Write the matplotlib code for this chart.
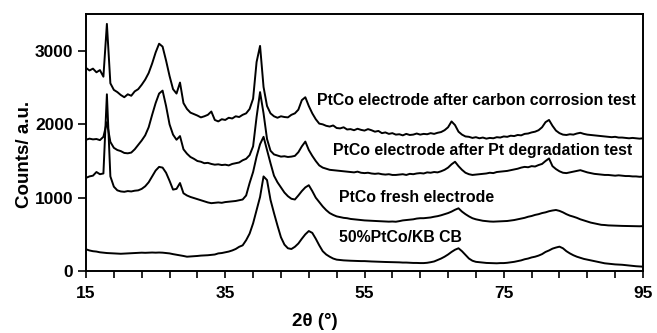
import numpy as np
import matplotlib
matplotlib.use("Agg")
import matplotlib.pyplot as plt
from matplotlib.ticker import FixedLocator, NullFormatter

plt.rcParams['font.family'] = ['Liberation Sans', 'DejaVu Sans']
plt.rcParams['font.weight'] = 'bold'

# 2-theta scan grid (degrees), 0.5 deg steps from 15 to 95
two_theta = np.arange(15.0, 95.01, 0.5)

# PtCo electrode after carbon corrosion test
counts_carbon_corrosion = [
    2770, 2735, 2760, 2710, 2740, 2650, 3370, 2560, 2470, 2440,
    2400, 2370, 2410, 2390, 2450, 2480, 2540, 2610, 2700, 2830,
    2980, 3100, 3060, 2870, 2660, 2480, 2420, 2570, 2290, 2210,
    2160, 2140, 2120, 2095, 2110, 2130, 2175, 2060, 2040, 2070,
    2060, 2090, 2080, 2110, 2100, 2130, 2150, 2210, 2350, 2850,
    3070, 2510, 2250, 2150, 2110, 2090, 2110, 2100, 2095, 2130,
    2150, 2200, 2330, 2370, 2250, 2150, 2070, 2010, 2000, 1980,
    1970, 1985, 1950, 1945, 1960, 1930, 1935, 1920, 1940, 1925,
    1915, 1935, 1920, 1900, 1910, 1880, 1890, 1870, 1880, 1860,
    1865, 1850, 1870, 1855, 1860, 1875, 1860, 1870, 1865, 1880,
    1870, 1885, 1895, 1920, 1960, 2040, 1990, 1900, 1860, 1835,
    1830, 1815, 1825, 1810, 1820, 1805, 1815, 1810, 1825, 1820,
    1835, 1830, 1845, 1840, 1855, 1850, 1870, 1875, 1890, 1900,
    1920, 1960, 2030, 2060, 1980, 1915, 1880, 1860, 1855, 1865,
    1860, 1875, 1885, 1870, 1860, 1855, 1850, 1845, 1840, 1835,
    1830, 1825, 1830, 1820, 1820, 1815, 1810, 1815, 1810, 1805, 1810,
]

# PtCo electrode after Pt degradation test
counts_pt_degradation = [
    1790, 1805, 1795, 1800, 1785, 1830, 2030, 1760, 1680, 1650,
    1635, 1610, 1605, 1615, 1660, 1720, 1780, 1850, 1960, 2130,
    2290, 2420, 2460, 2250, 2000, 1860, 1790, 1840, 1660, 1600,
    1555, 1530, 1500, 1490, 1470, 1475, 1460, 1450, 1455, 1445,
    1450, 1440, 1460, 1470, 1480, 1510, 1530, 1580, 1700, 2100,
    2440, 2150, 1800, 1640, 1590, 1575, 1560, 1565, 1555, 1560,
    1570, 1620, 1700, 1765, 1650, 1570, 1500, 1440, 1410, 1395,
    1380, 1375, 1370, 1365, 1360, 1355, 1350, 1345, 1355, 1340,
    1335, 1340, 1330, 1325, 1330, 1320, 1315, 1320, 1310, 1310,
    1315, 1320, 1310, 1325, 1320, 1330, 1335, 1330, 1345, 1340,
    1350, 1345, 1360, 1380, 1410, 1455, 1490, 1430, 1380, 1340,
    1320, 1310, 1315, 1320, 1325, 1330, 1340, 1335, 1350, 1355,
    1360, 1365, 1375, 1385, 1395, 1410, 1420, 1415, 1430, 1425,
    1445, 1460, 1500, 1535, 1430, 1390, 1360, 1340, 1335, 1345,
    1355, 1365, 1375, 1360, 1345, 1335, 1325, 1320, 1315, 1310,
    1310, 1305, 1300, 1305, 1300, 1295, 1295, 1290, 1290, 1285, 1287,
]

# PtCo fresh electrode
counts_fresh = [
    1270, 1290, 1300, 1350, 1320, 1330, 2410, 1290, 1150, 1100,
    1085, 1080, 1090, 1085, 1095, 1100, 1120, 1155, 1210, 1290,
    1370, 1420, 1410, 1340, 1230, 1110, 1120, 1200, 1060, 1030,
    1010, 995, 980, 965, 950, 935, 925, 930, 935, 930,
    940, 945, 950, 955, 965, 975, 1030, 1200, 1350, 1560,
    1730, 1830, 1650, 1470, 1300, 1210, 1140, 1070, 1020, 985,
    975, 1030, 1090, 1140, 1170, 1090, 1000, 940, 880, 830,
    790, 765, 745, 735, 725, 720, 710, 705, 700, 695,
    690, 688, 685, 682, 680, 678, 675, 673, 675, 672,
    680, 690, 695, 700, 705, 715, 720, 720, 725, 730,
    740, 748, 760, 775, 790, 810, 835, 855, 810, 775,
    745, 720, 705, 695, 685, 680, 675, 673, 675, 678,
    678, 682, 688, 695, 705, 715, 725, 740, 750, 765,
    775, 790, 800, 815, 825, 832, 820, 800, 775, 755,
    741, 725, 705, 690, 675, 660, 650, 640, 630, 627,
    622, 620, 618, 616, 615, 614, 612, 613, 611, 610, 612,
]

# 50%PtCo/KB carbon black powder
counts_ptco_kb = [
    296, 280, 270, 265, 255, 250, 245, 242, 240, 238,
    235, 238, 240, 242, 245, 248, 250, 248, 250, 252,
    250, 252, 250, 245, 240, 230, 222, 215, 205, 195,
    198, 200, 205, 210, 212, 215, 220, 225, 240, 245,
    255, 265, 280, 300, 330, 350, 420, 510, 650, 830,
    1010, 1290, 1240, 970, 790, 620, 460, 360, 310, 300,
    330, 375, 440, 500, 545, 520, 440, 350, 270, 225,
    195, 170, 155, 150, 145, 142, 140, 138, 136, 135,
    135, 132, 130, 128, 127, 125, 123, 122, 120, 120,
    118, 115, 115, 112, 110, 110, 108, 108, 112, 120,
    130, 150, 170, 195, 225, 260, 290, 310, 270, 220,
    170, 140, 125, 120, 115, 110, 108, 105, 105, 108,
    108, 112, 118, 125, 135, 145, 160, 170, 185, 195,
    210, 230, 260, 280, 305, 320, 332, 310, 270, 240,
    215, 195, 180, 165, 155, 145, 135, 125, 115, 105,
    100, 95, 90, 88, 85, 80, 75, 70, 65, 62, 59,
]

series_labels = [
    "PtCo electrode after carbon corrosion test",
    "PtCo electrode after Pt degradation test",
    "PtCo fresh electrode",
    "50%PtCo/KB CB",
]
x_ticks = [15, 35, 55, 75, 95]
y_ticks = [0, 1000, 2000, 3000]

W, H = 657, 333
fig = plt.figure(figsize=(W / 100, H / 100), dpi=100)
ax = fig.add_axes([86 / W, 1 - 271 / H, (643 - 86) / W, (271 - 14) / H])

for counts in (counts_carbon_corrosion, counts_pt_degradation,
               counts_fresh, counts_ptco_kb):
    ax.plot(two_theta, counts, color='black', lw=1.4)

ax.set_xlim(15, 95)
ax.set_ylim(0, 3505)

ax.xaxis.set_major_locator(FixedLocator(x_ticks))
ax.xaxis.set_minor_locator(FixedLocator(np.arange(15, 96, 4)))
ax.xaxis.set_minor_formatter(NullFormatter())
ax.yaxis.set_major_locator(FixedLocator(y_ticks))
ax.tick_params(axis='x', which='both', direction='out', length=5, width=1.2,
               labelsize=12.5, pad=6)
ax.tick_params(axis='y', which='major', direction='out', length=6, width=1.2,
               labelsize=12.5, pad=3)
for lab in ax.get_xticklabels() + ax.get_yticklabels():
    lab.set_fontweight('bold')
for sp in ax.spines.values():
    sp.set_linewidth(1.4)

# curve annotations (left edge, vertical centre in pixels)
label_pos = [(317, 101), (333, 150), (339, 197), (339, 238)]
for text, (px, py) in zip(series_labels, label_pos):
    fig.text(px / W, 1 - py / H, text, fontsize=11.4, fontweight='bold',
             ha='left', va='center')

fig.text(25 / W, 1 - 154 / H, "Counts/ a.u.", rotation=90, fontsize=13.5,
         fontweight='bold', ha='center', va='center')
fig.text(315 / W, 1 - 321 / H, "2θ (°)", fontsize=13.5, fontweight='bold',
         ha='center', va='center')

fig.savefig("out.png", dpi=100)
